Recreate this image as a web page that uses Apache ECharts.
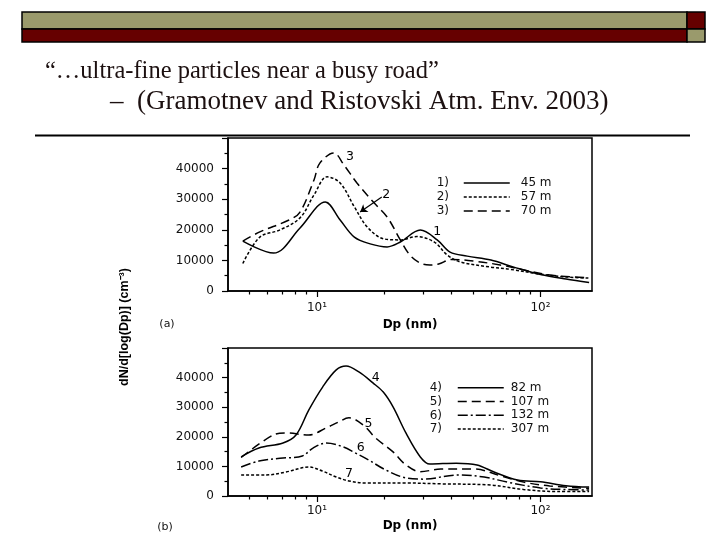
<!DOCTYPE html>
<html><head><meta charset="utf-8">
<script src="https://cdn.jsdelivr.net/npm/echarts@6/dist/echarts.min.js"></script>
<style>html,body{margin:0;padding:0;background:#fff}#c{width:720px;height:540px}</style>
</head><body><div id="c"></div>
<script>
// ---------- texts ----------
const title1 = '“…ultra-fine particles near a busy road”';
const title2 = '–  (Gramotnev and Ristovski Atm. Env. 2003)';
const yAxisName = 'dN/d[log(Dp)] (cm⁻³)';
const xAxisName = 'Dp (nm)';
const panelTags = ['(a)', '(b)'];
const majorTicks = [10, 100];
const majorTickLabels = ['10¹', '10²'];
const minorTicks = [5, 6, 7, 8, 9, 20, 30, 40, 50, 60, 70, 80, 90];

// ---------- panel (a) ----------
const namesA = ['45 m', '57 m', '70 m'];
const prefixA = ['1)', '2)', '3)'];
const dpA1 = [4.66, 6.4, 8.4, 10.9, 12.7, 14.7, 17.3, 20.6, 23.6, 29, 34.5, 39.4, 47, 60, 76, 100, 130, 165];
const vA1  = [16300, 12400, 20600, 29100, 23200, 17600, 15400, 14400, 16000, 19900, 16700, 12700, 11400, 10100, 7800, 5400, 3900, 2800];
const dpA2 = [4.66, 5.55, 6.8, 8.4, 9.7, 11.1, 12.7, 14.7, 16.8, 20, 23.6, 28, 33.5, 38.2, 43.8, 60, 73, 100, 130, 165];
const vA2  = [9000, 17600, 19900, 23900, 31400, 37300, 35300, 27500, 20900, 17000, 16700, 17800, 16000, 11800, 9500, 7800, 7100, 5500, 4600, 4200];
const dpA3 = [4.66, 5.55, 7.5, 8.4, 9.7, 10.3, 11.9, 13.2, 15.1, 18, 20.6, 23.6, 26, 29, 32, 35, 40, 50, 66, 84, 108, 140, 165];
const vA3  = [16300, 19300, 23200, 25800, 36300, 41800, 45100, 41200, 35300, 28800, 24200, 16700, 11800, 9100, 8500, 8800, 10300, 9800, 8500, 6900, 5300, 4600, 4400];
const notesA = [['3', 14.05, 43800], ['2', 20.4, 31400], ['1', 34.5, 19300]];
const arrowA = [[19.5, 30700], [15.6, 25800]];

// ---------- panel (b) ----------
const namesB = ['82 m', '107 m', '132 m', '307 m'];
const prefixB = ['4)', '5)', '6)', '7)'];
const dpB4 = [4.58, 5.5, 7.05, 8.06, 9.2, 10.6, 12.2, 13.5, 15.4, 17.8, 19.8, 21.9, 25, 29, 32, 42, 52, 62, 79, 100, 130, 165];
const vB4  = [13200, 16200, 17900, 20600, 29100, 36800, 42600, 43900, 41900, 38200, 35100, 30100, 21300, 13200, 10800, 11100, 10500, 8100, 5400, 4800, 3500, 3000];
const dpB5 = [4.58, 6.37, 7.27, 9.2, 11, 12.5, 13.9, 16.1, 18.3, 21.9, 25, 29, 35.8, 50.8, 66.4, 84, 110, 165];
const vB5  = [13000, 20600, 21300, 20600, 23000, 25000, 26400, 24000, 19600, 14900, 10500, 8200, 9100, 9100, 6800, 4700, 3400, 2600];
const dpB6 = [4.58, 5.5, 7.05, 8.6, 9.6, 11, 13.1, 14.9, 17, 20.3, 25, 30, 42.6, 56, 71, 100, 130, 165];
const vB6  = [9800, 11800, 12800, 13500, 16200, 17900, 16600, 14500, 12200, 8800, 6100, 5700, 7100, 6400, 4700, 2700, 2200, 2000];
const dpB7 = [4.58, 5.9, 7.27, 9.2, 10.6, 12.2, 13.9, 16.5, 25, 35.8, 60, 84, 120, 165];
const vB7  = [7100, 7100, 8100, 9800, 8400, 6400, 5100, 4400, 4400, 4100, 3700, 2200, 1500, 1500];
const notesB = [['4', 18.3, 39900], ['5', 17, 24300], ['6', 15.7, 16200], ['7', 13.9, 7400]];

// ---------- styling ----------
const FONT = 'DejaVu Sans';
const SOLID = 'solid', DOT = [3, 2], DASH = [9, 5], DASHDOT = [10, 3, 2, 3];
const OLIVE = '#9a9a6c', MAROON = '#660000';

const zip = (xs, ys) => xs.map((x, i) => [x, ys[i]]);

const grids = [
  {left: 228, right: 128, top: 138, height: 153, nameGap: 28, labelMargin: 11},
  {left: 228, right: 128, top: 348, height: 148, nameGap: 24, labelMargin: 9}
];

const xAxes = [], yAxes = [];
grids.forEach((g, gi) => {
  xAxes.push({
    type: 'log', logBase: 10, gridIndex: gi, min: 4, max: 170, position: 'bottom',
    name: xAxisName, nameLocation: 'middle', nameGap: g.nameGap,
    nameTextStyle: {fontFamily: FONT, fontSize: 12, fontWeight: 'bold', color: '#000'},
    axisLine: {show: true, lineStyle: {color: '#000', width: 1.5}},
    axisTick: {show: true, customValues: majorTicks, length: 6, lineStyle: {color: '#000', width: 1.2}},
    axisLabel: {customValues: majorTicks, margin: g.labelMargin, fontFamily: FONT, fontSize: 12, color: '#111',
      formatter: v => majorTickLabels[majorTicks.indexOf(Math.round(v))] || ''},
    splitLine: {show: false}, minorTick: {show: false}
  });
  xAxes.push({
    type: 'log', logBase: 10, gridIndex: gi, min: 4, max: 170, position: 'bottom',
    axisLine: {show: false},
    axisTick: {show: true, customValues: minorTicks, length: 3.5, lineStyle: {color: '#000', width: 1.2}},
    axisLabel: {show: false}, splitLine: {show: false}
  });
  yAxes.push({
    type: 'value', gridIndex: gi, min: 0, max: 50000, interval: 10000,
    axisLine: {show: true, lineStyle: {color: '#000', width: 1.5}},
    axisTick: {show: true, length: 6, lineStyle: {color: '#000', width: 1.2}},
    minorTick: {show: true, splitNumber: 2, length: 3.5, lineStyle: {color: '#000', width: 1.2}},
    axisLabel: {showMaxLabel: false, margin: 14, fontFamily: FONT, fontSize: 12, color: '#111', formatter: v => String(v)},
    splitLine: {show: false}, minorSplitLine: {show: false}
  });
});

function mkSeries(name, dp, v, dash, gi, notes, arrow) {
  const s = {
    type: 'line', name, xAxisIndex: gi * 2, yAxisIndex: gi,
    data: zip(dp, v), symbol: 'none', showSymbol: false, smooth: 0.35,
    lineStyle: {color: '#000', width: 1.5, type: dash}, itemStyle: {color: '#000'},
    silent: true, z: 3
  };
  if (notes) {
    s.markPoint = {
      symbol: 'circle', symbolSize: 0, silent: true,
      label: {show: true, position: 'inside', formatter: p => p.name, color: '#000', fontFamily: FONT, fontSize: 12.5},
      data: notes.map(n => ({name: n[0], coord: [n[1], n[2]]}))
    };
  }
  if (arrow) {
    s.markLine = {
      silent: true, symbol: ['none', 'arrow'], symbolSize: 7,
      lineStyle: {color: '#000', width: 1.2, type: 'solid'}, label: {show: false},
      data: [[{coord: arrow[0]}, {coord: arrow[1]}]]
    };
  }
  return s;
}

const series = [
  mkSeries(namesA[0], dpA1, vA1, SOLID, 0, notesA, arrowA),
  mkSeries(namesA[1], dpA2, vA2, DOT, 0),
  mkSeries(namesA[2], dpA3, vA3, DASH, 0),
  mkSeries(namesB[0], dpB4, vB4, SOLID, 1, notesB),
  mkSeries(namesB[1], dpB5, vB5, DASH, 1),
  mkSeries(namesB[2], dpB6, vB6, DASHDOT, 1),
  mkSeries(namesB[3], dpB7, vB7, DOT, 1)
];

const hiddenSymbol = {color: 'rgba(0,0,0,0)', borderColor: 'rgba(0,0,0,0)', borderWidth: 0, opacity: 0};
const legendBase = {orient: 'vertical', padding: 0, itemWidth: 46, itemHeight: 10, itemGap: 0, selectedMode: false,
  itemStyle: hiddenSymbol, lineStyle: {width: 1.5}};
const legends = [
  Object.assign({data: namesA, left: 463, top: 176,
    textStyle: {fontFamily: FONT, fontSize: 12, color: '#111', lineHeight: 14, padding: [0, 0, 0, 6]}}, legendBase),
  Object.assign({data: namesB, left: 457, top: 381,
    textStyle: {fontFamily: FONT, fontSize: 12, color: '#111', lineHeight: 13.7, padding: [0, 0, 0, 2]}}, legendBase)
];

const graphic = [
  // slide header bar
  {type: 'rect', shape: {x: 22, y: 12, width: 665, height: 17}, style: {fill: OLIVE, stroke: '#000', lineWidth: 1.5}},
  {type: 'rect', shape: {x: 22, y: 29, width: 665, height: 13}, style: {fill: MAROON, stroke: '#000', lineWidth: 1.5}},
  {type: 'rect', shape: {x: 687, y: 12, width: 18, height: 17}, style: {fill: MAROON, stroke: '#000', lineWidth: 1.5}},
  {type: 'rect', shape: {x: 687, y: 29, width: 18, height: 13}, style: {fill: OLIVE, stroke: '#000', lineWidth: 1.5}},
  {type: 'text', x: 45, y: 72, style: {text: title1, font: '24.5px "Liberation Serif"', fill: '#1c1010', verticalAlign: 'middle'}},
  {type: 'text', x: 110, y: 102, style: {text: title2, font: '27px "Liberation Serif"', fill: '#1c1010', verticalAlign: 'middle'}},
  {type: 'line', shape: {x1: 35, y1: 135.5, x2: 690, y2: 135.5}, style: {stroke: '#000', lineWidth: 2}},
  // y axis title spanning both panels
  {type: 'text', x: 125, y: 327, rotation: Math.PI / 2,
   style: {text: yAxisName, font: 'bold 12.5px "Liberation Sans"', fill: '#000', align: 'center', verticalAlign: 'middle'}},
  {type: 'text', x: 167, y: 324, style: {text: panelTags[0], font: '11px "DejaVu Sans"', fill: '#111', align: 'center', verticalAlign: 'middle'}},
  {type: 'text', x: 165, y: 527, style: {text: panelTags[1], font: '11px "DejaVu Sans"', fill: '#111', align: 'center', verticalAlign: 'middle'}}
];
prefixA.forEach((p, i) => graphic.push({type: 'text', x: 449, y: 183 + i * 14,
  style: {text: p, font: '12px "DejaVu Sans"', fill: '#111', align: 'right', verticalAlign: 'middle'}}));
prefixB.forEach((p, i) => graphic.push({type: 'text', x: 442, y: 388 + i * 13.7,
  style: {text: p, font: '12px "DejaVu Sans"', fill: '#111', align: 'right', verticalAlign: 'middle'}}));

const chart = echarts.init(document.getElementById('c'), null, {renderer: 'canvas'});
chart.setOption({
  animation: false,
  backgroundColor: '#fff',
  grid: grids.map(g => ({show: true, borderColor: '#000', borderWidth: 1.5, backgroundColor: 'transparent',
    left: g.left, right: g.right, top: g.top, height: g.height})),
  xAxis: xAxes,
  yAxis: yAxes,
  legend: legends,
  series,
  graphic
});
</script>
</body></html>
